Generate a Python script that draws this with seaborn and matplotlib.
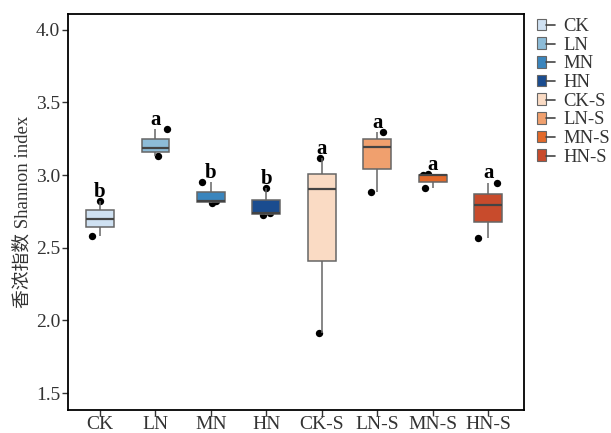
import numpy as np
import pandas as pd
import matplotlib
matplotlib.use("Agg")
import matplotlib.pyplot as plt
import seaborn as sns
from matplotlib.patches import Patch
from matplotlib.lines import Line2D
from matplotlib.legend_handler import HandlerTuple

# Shannon index, three replicates per treatment
groups = ["CK", "LN", "MN", "HN", "CK-S", "LN-S", "MN-S", "HN-S"]
rep1 = [2.583, 3.134, 2.810, 2.728, 1.911, 2.882, 2.914, 2.565]
rep2 = [2.698, 3.185, 2.820, 2.740, 2.905, 3.197, 2.998, 2.795]
rep3 = [2.822, 3.316, 2.953, 2.912, 3.116, 3.295, 3.008, 2.949]
letters = ["b", "a", "b", "b", "a", "a", "a", "a"]

colors = ["#cfe1f2", "#8dbcd8", "#3a85bd", "#1a4c8f",
          "#fadbc4", "#f0a06e", "#e2692a", "#c84b2c"]

# horizontal spread of the replicate dots around each category
jitter1 = [-0.14, 0.05, 0.02, -0.06, -0.05, -0.12, -0.14, -0.18]
jitter2 = [0.00, 0.00, 0.10, 0.06, 0.00, 0.00, -0.17, 0.00]
jitter3 = [0.00, 0.20, -0.16, 0.00, -0.04, 0.10, -0.09, 0.15]

df = pd.DataFrame({
    "group": np.repeat(groups, 3),
    "value": np.ravel(np.column_stack([rep1, rep2, rep3])),
})

sns.set_theme(style="white")
plt.rcParams["font.family"] = ["Liberation Serif", "Noto Sans CJK SC"]

fig = plt.figure(figsize=(6.11, 4.33), dpi=100)
ax = fig.add_axes([0.111, 0.053, 0.747, 0.915])

# replicate points sit beneath the boxes
for i in range(len(groups)):
    xs = [i + jitter1[i], i + jitter2[i], i + jitter3[i]]
    ys = [rep1[i], rep2[i], rep3[i]]
    ax.scatter(xs, ys, s=28, color="black", zorder=1, linewidths=0)

sns.boxplot(data=df, x="group", y="value", hue="group", order=groups,
            hue_order=groups, palette=colors, width=0.5, whis=np.inf,
            linewidth=1.1, linecolor="#666666", legend=False, ax=ax,
            medianprops=dict(color="#444444", linewidth=1.6),
            boxprops=dict(zorder=2), whiskerprops=dict(zorder=2),
            capprops=dict(linewidth=0), saturation=1)

for i, lab in enumerate(letters):
    ax.text(i, rep3[i] + 0.03, lab, ha="center", va="baseline",
            fontsize=15, fontweight="bold", color="black",
            family="Liberation Serif")

ax.set_xlim(-0.58, 7.65)
ax.set_ylim(1.383, 4.11)
ax.set_yticks([1.5, 2.0, 2.5, 3.0, 3.5, 4.0])
ax.set_yticklabels(["1.5", "2.0", "2.5", "3.0", "3.5", "4.0"])
ax.set_xlabel("")
ax.set_ylabel("香浓指数 Shannon index", fontsize=13.5, color="#333333",
              family=["Liberation Serif", "Noto Sans CJK SC"], labelpad=3)
ax.tick_params(axis="both", which="both", length=4, width=1,
               color="#333333", labelsize=14, labelcolor="#333333",
               left=True, bottom=True, direction="out", pad=1.5)
ax.tick_params(axis="x", pad=0.5)
for side in ["left", "bottom", "right", "top"]:
    ax.spines[side].set_visible(True)
    ax.spines[side].set_color("black")
    ax.spines[side].set_linewidth(1.3)

handles = []
for c in colors:
    box = Patch(facecolor=c, edgecolor="#666666", linewidth=0.8)
    mid = Line2D([], [], color="#444444", linewidth=1.2)
    handles.append((box, mid))
leg = fig.legend(handles, groups, loc="upper left",
                 bbox_to_anchor=(0.861, 0.984), frameon=False,
                 handler_map={tuple: HandlerTuple(ndivide=None, pad=0)},
                 handlelength=0.95, handleheight=0.6, handletextpad=0.45,
                 labelspacing=0.09, fontsize=13.4, borderaxespad=0.2)
for t in leg.get_texts():
    t.set_color("#333333")

fig.savefig("out.png", dpi=100)
